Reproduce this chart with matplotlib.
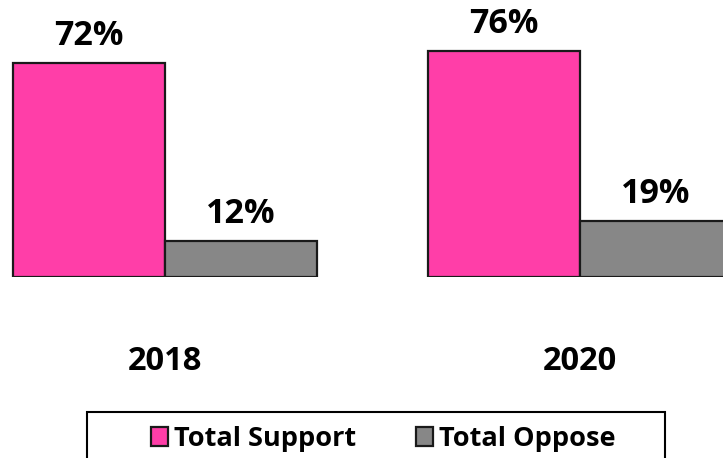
import matplotlib
matplotlib.use("Agg")
import matplotlib.pyplot as plt
from matplotlib.patches import Rectangle
import numpy as np

years = ["2018", "2020"]
support = [72, 76]
oppose = [12, 19]
series_names = ["Total Support", "Total Oppose"]
colors = ["#FF3EA8", "#878787"]

plt.rcParams['font.family'] = ['Open Sans', 'DejaVu Sans']

W, H = 723, 458
fig = plt.figure(figsize=(W / 100, H / 100), dpi=100)

base_px = 277
ax = fig.add_axes([0, (H - base_px) / H, 1, base_px / H])
px_per_unit = 415.0
x = np.arange(len(years))
bw = 152 / px_per_unit
ax.set_xlim(-165 / px_per_unit, (W - 165) / px_per_unit)
ax.set_ylim(0, base_px / 2.97)

b1 = ax.bar(x - bw / 2, support, bw, color=colors[0], edgecolor="#1a1a1a", linewidth=1.6, label=series_names[0])
b2 = ax.bar(x + bw / 2, oppose, bw, color=colors[1], edgecolor="#1a1a1a", linewidth=1.6, label=series_names[1])

for bars, vals in ((b1, support), (b2, oppose)):
    for r, v in zip(bars, vals):
        ax.annotate(f"{v}%", (r.get_x() + r.get_width() / 2, v), xytext=(0, 13),
                    textcoords="offset points", ha="center", va="baseline",
                    fontsize=24.5, fontweight="bold", annotation_clip=False)

for s in ax.spines.values():
    s.set_visible(False)
ax.set_yticks([])
ax.set_xticks(x)
ax.set_xticklabels(years, fontsize=23.5, fontweight="bold")
ax.tick_params(axis="x", length=0, pad=49)

# legend box
fig.patches.append(Rectangle((87 / W, (H - 470) / H), (665 - 87) / W, 58 / H,
                             transform=fig.transFigure, fill=False, edgecolor="black", linewidth=1.5))
fig.legend(handles=[b1, b2], labels=series_names, loc="center", bbox_to_anchor=(383 / W, (H - 439) / H),
           ncol=2, frameon=False, prop={"size": 19.5, "weight": "bold"}, handlelength=0.65, handleheight=0.65,
           handletextpad=0.2, columnspacing=2.2, borderpad=0)

fig.savefig("out.png", dpi=100)
